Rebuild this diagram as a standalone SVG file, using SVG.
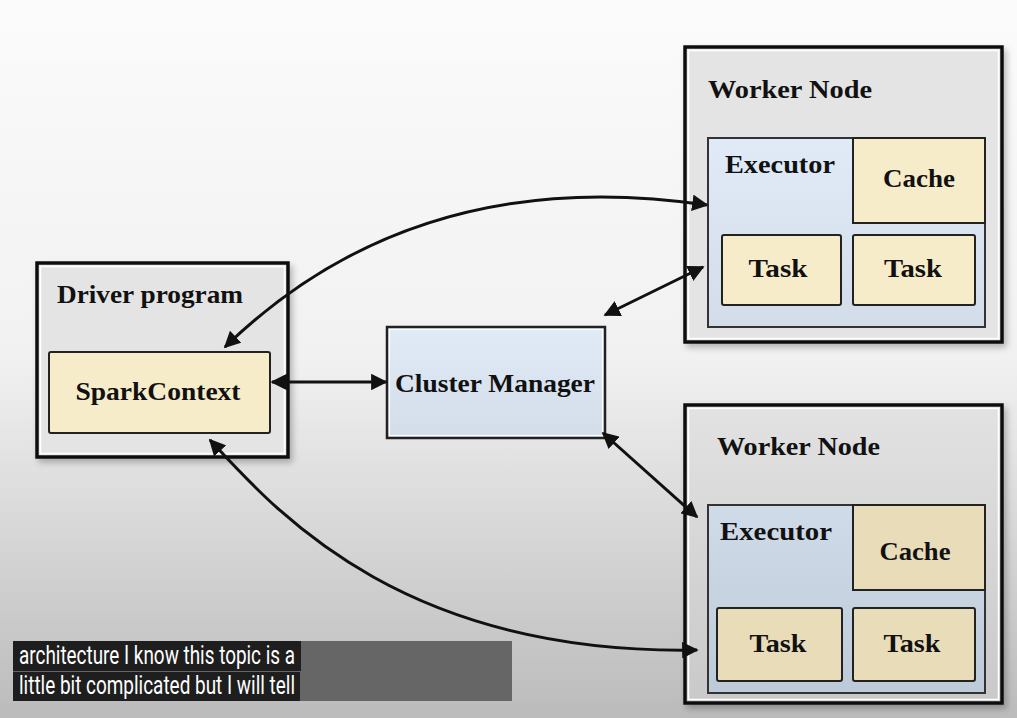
<svg xmlns="http://www.w3.org/2000/svg" width="1017" height="718" viewBox="0 0 1017 718">
<defs>
<linearGradient id="bg" x1="0" y1="0" x2="0" y2="1">
<stop offset="0" stop-color="#fbfbfb"/>
<stop offset="0.5" stop-color="#f1f1f1"/>
<stop offset="1" stop-color="#bbbbbb"/>
</linearGradient>
<linearGradient id="blue" x1="0" y1="0" x2="0" y2="1">
<stop offset="0" stop-color="#e0ebf7"/>
<stop offset="1" stop-color="#d2dde9"/>
</linearGradient>
<linearGradient id="blue2" x1="0" y1="0" x2="0" y2="1">
<stop offset="0" stop-color="#cfdbe8"/>
<stop offset="1" stop-color="#bdcad8"/>
</linearGradient>
<linearGradient id="gray2" x1="0" y1="0" x2="0" y2="1">
<stop offset="0" stop-color="#e2e2e2"/>
<stop offset="1" stop-color="#c9c9c9"/>
</linearGradient>
<marker id="ah" viewBox="0 0 10 10" refX="9" refY="5" markerWidth="5.5" markerHeight="5.5" orient="auto-start-reverse" markerUnits="strokeWidth">
<path d="M0,0 L10,5 L0,10 z" fill="#111"/>
</marker>
<filter id="sh" x="-10%" y="-10%" width="125%" height="125%">
<feDropShadow dx="3" dy="4" stdDeviation="3" flood-color="#000" flood-opacity="0.25"/>
</filter>
</defs>
<style>
.outer{fill:#e4e4e4;stroke:#111;stroke-width:3.5}
.inl{fill:none;stroke:#fff;stroke-width:1.5}
.yel{fill:#f7ecc9;stroke:#222;stroke-width:2}
.yel2{fill:#e9dcb9;stroke:#222;stroke-width:2}
.exe{fill:url(#blue);stroke:#333;stroke-width:2}
.t{font-family:"Liberation Serif","DejaVu Serif",serif;font-weight:bold;font-size:26px;fill:#111}
.m{text-anchor:middle}
.conn{fill:none;stroke:#111;stroke-width:3;marker-start:url(#ah);marker-end:url(#ah)}
.cap{font-family:Roboto,"Liberation Sans",sans-serif;font-size:25px;fill:#fff}
</style>
<rect x="0" y="0" width="1017" height="718" fill="url(#bg)"/>

<g id="driver">
<rect class="outer" x="37" y="263" width="251" height="194" filter="url(#sh)"/>
<rect class="inl" x="40.5" y="266.5" width="244" height="187"/>
<text class="t" x="57" y="303" textLength="186" lengthAdjust="spacingAndGlyphs">Driver program</text>
</g>
<g id="sparkcontext">
<rect class="yel" x="49" y="352" width="221" height="81" rx="2"/>
<text class="t m" x="158" y="400" textLength="165" lengthAdjust="spacingAndGlyphs">SparkContext</text>
</g>

<g id="cluster-manager">
<rect x="387" y="327" width="218" height="111" fill="url(#blue)" stroke="#222" stroke-width="2.5"/>
<rect x="389.5" y="329.5" width="213" height="106" fill="none" stroke="#fff" stroke-width="1.2"/>
<text class="t m" x="495" y="392" textLength="200" lengthAdjust="spacingAndGlyphs">Cluster Manager</text>
</g>

<g id="worker1">
<rect class="outer" x="685" y="47" width="317" height="295" filter="url(#sh)"/>
<rect class="inl" x="688.5" y="50.5" width="310" height="288"/>
<text class="t" x="708" y="98" textLength="164" lengthAdjust="spacingAndGlyphs">Worker Node</text>
<g id="executor1">
<rect class="exe" x="708" y="138" width="277" height="189"/>
<text class="t" x="725" y="173" textLength="110" lengthAdjust="spacingAndGlyphs">Executor</text>
</g>
<g id="cache1">
<rect class="yel" x="853" y="138" width="132" height="85"/>
<text class="t m" x="919" y="187" textLength="72" lengthAdjust="spacingAndGlyphs">Cache</text>
</g>
<g id="task1a">
<rect class="yel" x="722" y="235" width="119" height="70" rx="2"/>
<text class="t m" x="778" y="277" textLength="59" lengthAdjust="spacingAndGlyphs">Task</text>
</g>
<g id="task1b">
<rect class="yel" x="853" y="235" width="122" height="70" rx="2"/>
<text class="t m" x="913" y="277" textLength="58" lengthAdjust="spacingAndGlyphs">Task</text>
</g>
</g>

<g id="worker2">
<rect x="685" y="405" width="317" height="298" fill="url(#gray2)" stroke="#111" stroke-width="3.5" filter="url(#sh)"/>
<rect class="inl" x="688.5" y="408.5" width="310" height="291"/>
<text class="t" x="717" y="455" textLength="163" lengthAdjust="spacingAndGlyphs">Worker Node</text>
<g id="executor2">
<rect x="708" y="505" width="277" height="188" fill="url(#blue2)" stroke="#333" stroke-width="2"/>
<text class="t" x="720" y="540" textLength="112" lengthAdjust="spacingAndGlyphs">Executor</text>
</g>
<g id="cache2">
<rect class="yel2" x="853" y="505" width="132" height="85"/>
<text class="t m" x="915" y="560" textLength="71" lengthAdjust="spacingAndGlyphs">Cache</text>
</g>
<g id="task2a">
<rect class="yel2" x="717" y="608" width="125" height="73" rx="2"/>
<text class="t m" x="778" y="652" textLength="57" lengthAdjust="spacingAndGlyphs">Task</text>
</g>
<g id="task2b">
<rect class="yel2" x="853" y="608" width="122" height="73" rx="2"/>
<text class="t m" x="912" y="652" textLength="57" lengthAdjust="spacingAndGlyphs">Task</text>
</g>
</g>

<g id="connectors">
<path class="conn" d="M225,347 C320,255 470,170 707,205"/>
<path class="conn" d="M272,382 L386,382"/>
<path class="conn" d="M605,315 L703,267"/>
<path class="conn" d="M603,433 L697,517"/>
<path class="conn" d="M210,440 C275,510 400,655 697,650"/>
</g>

<g id="caption">
<rect x="13" y="641" width="499" height="60" fill="#666"/>
<rect x="13" y="641" width="288" height="30" fill="#1e1e1e"/>
<rect x="13" y="672" width="287" height="29" fill="#1e1e1e"/>
<text class="cap" x="19" y="664" textLength="276" lengthAdjust="spacingAndGlyphs">architecture I know this topic is a</text>
<text class="cap" x="19" y="694" textLength="276" lengthAdjust="spacingAndGlyphs">little bit complicated but I will tell</text>
</g>
</svg>
